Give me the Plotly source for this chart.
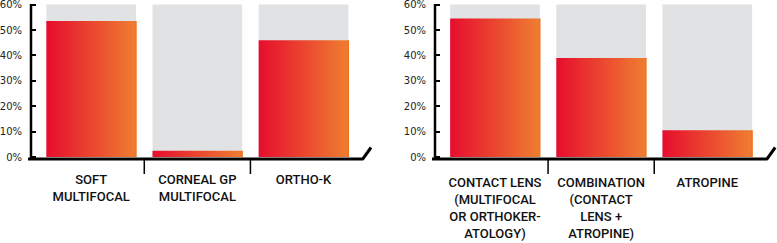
import plotly.graph_objects as go

W, H = 777, 243

left_categories = ["SOFT<br>MULTIFOCAL", "CORNEAL GP<br>MULTIFOCAL", "ORTHO-K"]
left_values = [53.5, 2.5, 46]
right_categories = ["CONTACT LENS<br>(MULTIFOCAL<br>OR ORTHOKER-<br>ATOLOGY)",
                    "COMBINATION<br>(CONTACT<br>LENS +<br>ATROPINE)", "ATROPINE"]
right_values = [54.5, 39, 10.5]
background_value = 60
y_tick_values = [0, 10, 20, 30, 40, 50, 60]
y_tick_labels = ["0%", "10%", "20%", "30%", "40%", "50%", "60%"]

BAR_W = 0.845
GRAY = "#e1e2e4"
GRAD = [[0, "#e60d2e"], [1, "#ef7e31"]]
FONT = "Roboto"


def px(x):
    return x / W


def py(y):
    return 1 - y / H


fig = go.Figure()

panels = [
    ("x", "y", left_categories, left_values),
    ("x2", "y2", right_categories, right_values),
]

for xa, ya, cats, vals in panels:
    idx = list(range(len(cats)))
    fig.add_trace(go.Bar(x=idx, y=[background_value] * len(cats), width=BAR_W,
                         marker=dict(color=GRAY, line=dict(width=0)),
                         xaxis=xa, yaxis=ya, showlegend=False, hoverinfo="skip"))
    for i, v in zip(idx, vals):
        x0, x1 = i - BAR_W / 2, i + BAR_W / 2
        fig.add_trace(go.Scatter(x=[x0, x1, x1, x0, x0], y=[0, 0, v, v, 0],
                                 mode="lines", fill="toself",
                                 line=dict(width=0, color="rgba(0,0,0,0)"),
                                 fillgradient=dict(type="horizontal", colorscale=GRAD),
                                 xaxis=xa, yaxis=ya, showlegend=False, hoverinfo="skip"))
        # thin orange right edge
        fig.add_trace(go.Scatter(x=[x1, x1], y=[0, v], mode="lines",
                                 line=dict(width=1.2, color="#f26a12"),
                                 xaxis=xa, yaxis=ya, showlegend=False, hoverinfo="skip"))

# geometry (pixels)
y_bottom_px, y_top_px = 159, 2
zero_px = 157
scale = 2.54  # px per percent
yrange = [-(y_bottom_px - zero_px) / scale, (zero_px - y_top_px) / scale]
spacing = 106.15

axes_px = [
    dict(axis_px=31, first_center=91.2, end_px=362.5),
    dict(axis_px=435, first_center=495.0, end_px=766.7),
]

layout_axes = {}
for k, a in enumerate(axes_px):
    sfx = "" if k == 0 else "2"
    lo = (a["axis_px"] - a["first_center"]) / spacing
    hi = (a["end_px"] - a["first_center"]) / spacing
    cats = panels[k][2]
    layout_axes["xaxis" + sfx] = dict(
        domain=[px(a["axis_px"]), px(a["end_px"])], range=[lo, hi],
        tickmode="array", tickvals=list(range(len(cats))), ticktext=cats,
        showgrid=False, zeroline=False, showline=False, ticks="",
        tickfont=dict(family=FONT, size=13, color="#111", weight=500),
        ticklabelstandoff=11 if k == 0 else 14,
        anchor="y" + sfx, fixedrange=True, automargin=False,
    )
    layout_axes["yaxis" + sfx] = dict(
        domain=[py(y_bottom_px), py(y_top_px)], range=yrange,
        tickmode="array", tickvals=y_tick_values, ticktext=y_tick_labels,
        showgrid=False, zeroline=False, showline=False,
        ticks="inside", ticklen=5, tickwidth=1.5, tickcolor="black",
        tickfont=dict(family="DejaVu Sans", size=10, color="#222"),
        ticklabelstandoff=8, ticklabeloverflow="allow",
        anchor="x" + sfx, fixedrange=True, automargin=False,
    )

shapes = []
for k, a in enumerate(axes_px):
    sfx = "" if k == 0 else "2"
    ax = a["axis_px"]
    # y axis line
    shapes.append(dict(type="line", xref="paper", yref="paper",
                       x0=px(ax), x1=px(ax), y0=py(4), y1=py(160),
                       line=dict(color="black", width=2.5)))
    # baseline
    shapes.append(dict(type="line", xref="paper", yref="paper",
                       x0=px(ax - 3), x1=px(a["end_px"] + 0.8), y0=py(159), y1=py(159),
                       line=dict(color="black", width=3)))
    # slash
    shapes.append(dict(type="line", xref="paper", yref="paper",
                       x0=px(a["end_px"]), x1=px(a["end_px"] + 8.5), y0=py(159.3), y1=py(147.5),
                       line=dict(color="black", width=3)))
    # separators between categories
    n = len(panels[k][2])
    for i in range(n - 1):
        shapes.append(dict(type="line", xref="x" + sfx, yref="paper",
                           x0=i + 0.5, x1=i + 0.5, y0=py(160), y1=py(174),
                           line=dict(color="black", width=1.5)))

fig.update_layout(
    width=W, height=H, margin=dict(l=0, r=0, t=0, b=0, autoexpand=False),
    paper_bgcolor="white", plot_bgcolor="rgba(0,0,0,0)",
    barmode="overlay", showlegend=False, shapes=shapes,
    font=dict(family=FONT),
    **layout_axes,
)

fig.write_html("out.html")
